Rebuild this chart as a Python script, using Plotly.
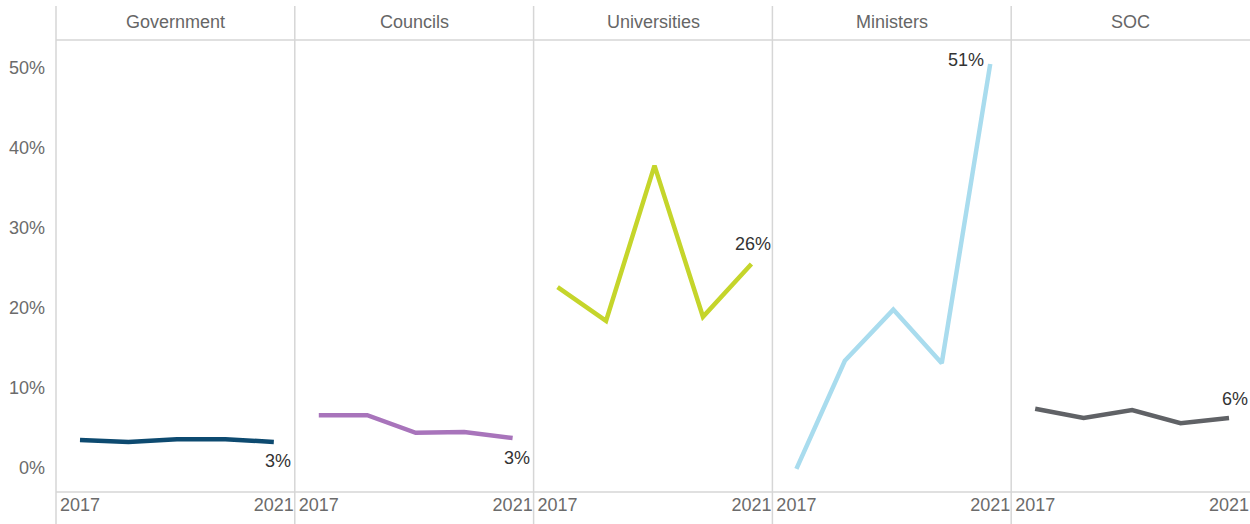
import plotly.graph_objects as go

years = [2017, 2018, 2019, 2020, 2021]
panels = ["Government", "Councils", "Universities", "Ministers", "SOC"]
government = [3.5, 3.25, 3.6, 3.6, 3.25]
councils = [6.6, 6.6, 4.4, 4.5, 3.75]
universities = [22.6, 18.4, 37.8, 18.9, 25.5]
ministers = [-0.1, 13.4, 19.8, 13.1, 50.5]
soc = [7.4, 6.25, 7.25, 5.6, 6.25]
end_labels = ["3%", "3%", "26%", "51%", "6%"]
y_ticks = [0, 10, 20, 30, 40, 50]
y_ticktext = ["0%", "10%", "20%", "30%", "40%", "50%"]

series = [government, councils, universities, ministers, soc]
colors = ["#0d4a70", "#a874bb", "#c5d52b", "#a9dcee", "#606266"]
label_shift = [(4, -19), (4, -20), (2, 20), (-24, 4), (6, 19)]

FONT = "Arial, Liberation Sans, sans-serif"
W, H = 1250, 524
ml, mr, mt, mb = 56, 0, 40, 32
ph = H - mt - mb

fig = go.Figure()
n = len(panels)
for i, (name, vals) in enumerate(zip(panels, series)):
    ax = "" if i == 0 else str(i + 1)
    fig.add_trace(go.Scatter(
        x=years, y=vals, mode="lines",
        line=dict(color=colors[i], width=4.5),
        xaxis="x" + ax, yaxis="y", showlegend=False, hoverinfo="skip"))
    fig.add_annotation(
        x=years[-1], y=vals[-1], xref="x" + ax, yref="y",
        text=end_labels[i], showarrow=False,
        xanchor="center", yanchor="middle",
        xshift=label_shift[i][0], yshift=label_shift[i][1],
        font=dict(size=18, color="#333333", family=FONT))
    d0 = i / n
    d1 = (i + 1) / n
    fig.layout["xaxis" + ax] = dict(
        domain=[d0, d1], range=[2016.505, 2021.433],
        tickvals=[2017, 2021], ticktext=["2017", "2021"],
        showgrid=False, zeroline=False, showline=False,
        ticks="", tickfont=dict(size=18, color="#6b6b6b", family=FONT),
        fixedrange=True)
    fig.add_annotation(
        x=(d0 + d1) / 2, y=1 + 18 / ph, xref="paper", yref="paper",
        text=name, showarrow=False,
        font=dict(size=18, color="#666666", family=FONT),
        xanchor="center", yanchor="middle")
    fig.add_shape(type="line", xref="paper", yref="paper",
                  x0=d0, x1=d0, y0=-mb / ph, y1=1 + 34 / ph,
                  line=dict(color="#d6d6d6", width=1.5))

# header and bottom lines
fig.add_shape(type="line", xref="paper", yref="paper",
              x0=0, x1=1, y0=1, y1=1, line=dict(color="#d6d6d6", width=1.5))
fig.add_shape(type="line", xref="paper", yref="paper",
              x0=0, x1=1, y0=0, y1=0, line=dict(color="#d6d6d6", width=1.5))

fig.update_layout(
    width=W, height=H,
    margin=dict(l=ml, r=mr, t=mt, b=mb),
    paper_bgcolor="white", plot_bgcolor="white",
    font=dict(family=FONT, size=18, color="#666666"),
    yaxis=dict(range=[-3, 53.5], tickvals=y_ticks, ticktext=y_ticktext,
               showgrid=False, zeroline=False, showline=False,
               tickfont=dict(size=18, color="#6b6b6b", family=FONT),
               ticklabelstandoff=10, fixedrange=True),
)

fig.write_html("out.html", config={"displayModeBar": False},
               post_script="document.body.style.margin='0';document.body.style.overflow='hidden';")
